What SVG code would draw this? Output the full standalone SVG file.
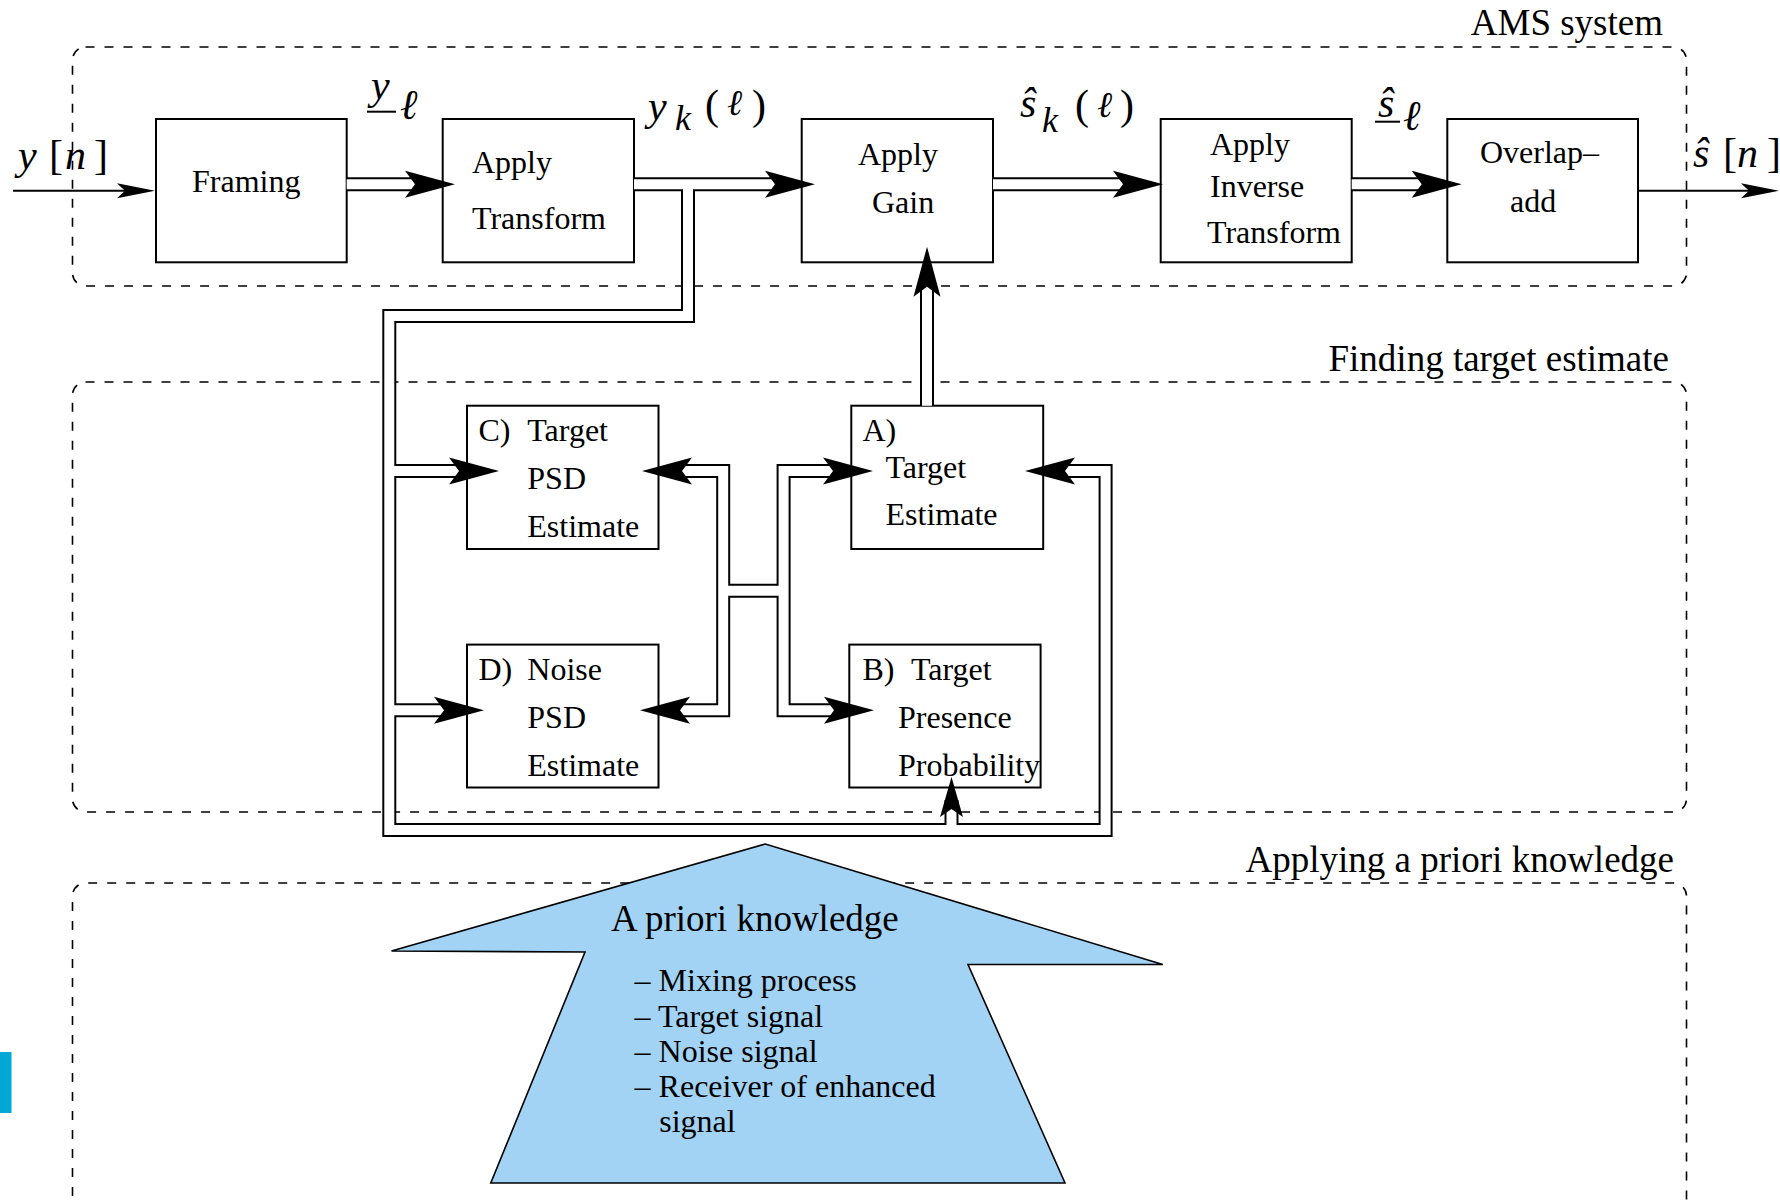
<svg xmlns="http://www.w3.org/2000/svg" width="1780" height="1203" viewBox="0 0 1780 1203">
<style>
.bg{fill:#fff}
.box{fill:#fff;stroke:#000;stroke-width:2}
.dash{fill:none;stroke:#000;stroke-width:1.6;stroke-dasharray:9 10}
.t{font-family:"Liberation Serif","Times New Roman",serif;font-size:32px;fill:#000}
.sec{font-size:37px}
.m{font-style:italic;font-size:42px}
.up{font-style:normal}
.sm{font-size:36px}
.dO{fill:none;stroke:#000;stroke-width:14;stroke-linejoin:miter}
.dI{fill:none;stroke:#fff;stroke-width:10;stroke-linejoin:miter}
.s{fill:none;stroke:#000;stroke-width:2}
.ul{stroke:#000;stroke-width:2}
.ah{fill:#000}
.prior{fill:#a2d3f5;stroke:#000;stroke-width:1.6}
</style>
<defs>
<path id="arrD" d="M0,0 L-50,-13.5 L-40,0 L-50,13.5 Z"/>
<path id="arrS" d="M0,0 L-38,-7.5 L-30,0 L-38,7.5 Z"/>
<path id="c1" d="M346.7,184.3 H420"/>
<path id="c2" d="M634,184.3 H780"/>
<path id="c3" d="M993,184.3 H1128"/>
<path id="c4" d="M1351.7,184.3 H1427"/>
<path id="c5" d="M688,184.3 V316 H389.3 V830 H1105.6 V471 H1060"/>
<path id="c6" d="M389.3,471 H464"/>
<path id="c7" d="M389.3,710.3 H449"/>
<path id="c8" d="M951.5,830 V800"/>
<path id="c9" d="M677,471 H723.2 V710.3 H675"/>
<path id="c10" d="M723.2,590.7 H783.6"/>
<path id="c11" d="M838,471 H783.6 V710.3 H839"/>
<path id="c12" d="M927,405.7 V282"/>
</defs>
<rect class="bg" x="0" y="0" width="1780" height="1203"/>
<rect x="0" y="1052" width="11.5" height="61" fill="#00a8d6"/>

<g id="sections">
<rect class="dash" x="72.5" y="47" width="1614" height="239" rx="13"/>
<rect class="dash" x="72.5" y="382" width="1614" height="430" rx="13"/>
<path class="dash" d="M72.5,1215 V896 A13,13 0 0 1 85.5,883 H1673.5 A13,13 0 0 1 1686.5,896 V1215"/>
<text class="t sec" x="1663" y="35" text-anchor="end">AMS system</text>
<text class="t sec" x="1669" y="371" text-anchor="end">Finding target estimate</text>
<text class="t sec" x="1674" y="872" text-anchor="end">Applying a priori knowledge</text>
</g>

<g id="prior">
<polygon class="prior" points="765.3,844 391.5,951 585,952 490.8,1183 1065,1183 968,964.5 1162.8,964.5"/>
<text class="t sec" x="611" y="930.7">A priori knowledge</text>
<text class="t" x="634.6" y="990.7">– Mixing process</text>
<text class="t" x="634.6" y="1026.7">– Target signal</text>
<text class="t" x="634.6" y="1061.7">– Noise signal</text>
<text class="t" x="634.6" y="1097.3">– Receiver of enhanced</text>
<text class="t" x="659.2" y="1131.7">signal</text>
</g>

<g id="framing">
<rect class="box" x="156" y="119" width="190.7" height="143.3"/>
<text class="t" x="192" y="192">Framing</text>
</g>
<g id="apply-transform">
<rect class="box" x="442.7" y="119" width="191.3" height="143.3"/>
<text class="t" x="472" y="173">Apply</text>
<text class="t" x="472" y="228.7">Transform</text>
</g>
<g id="apply-gain">
<rect class="box" x="801.7" y="119" width="191.3" height="143.3"/>
<text class="t" x="858" y="165">Apply</text>
<text class="t" x="872" y="213">Gain</text>
</g>
<g id="apply-inverse-transform">
<rect class="box" x="1160.7" y="119" width="191" height="143.3"/>
<text class="t" x="1210" y="155">Apply</text>
<text class="t" x="1210" y="196.7">Inverse</text>
<text class="t" x="1207" y="242.7">Transform</text>
</g>
<g id="overlap-add">
<rect class="box" x="1447.3" y="119" width="190.7" height="143.3"/>
<text class="t" x="1480" y="163.3">Overlap–</text>
<text class="t" x="1510" y="211.7">add</text>
</g>

<g id="target-psd">
<rect class="box" x="467" y="405.7" width="191.5" height="143.3"/>
<text class="t" x="478.4" y="441">C)</text>
<text class="t" x="527.3" y="441">Target</text>
<text class="t" x="527.3" y="489">PSD</text>
<text class="t" x="527.3" y="537">Estimate</text>
</g>
<g id="target-estimate">
<rect class="box" x="851.3" y="405.7" width="191.9" height="143.3"/>
<text class="t" x="862.5" y="441">A)</text>
<text class="t" x="885.5" y="477.5">Target</text>
<text class="t" x="885.5" y="525">Estimate</text>
</g>
<g id="noise-psd">
<rect class="box" x="467" y="644.6" width="191.5" height="142.9"/>
<text class="t" x="478.4" y="679.6">D)</text>
<text class="t" x="527.3" y="679.6">Noise</text>
<text class="t" x="527.3" y="727.5">PSD</text>
<text class="t" x="527.3" y="776">Estimate</text>
</g>
<g id="presence-prob">
<rect class="box" x="849.3" y="644.6" width="191.3" height="142.9"/>
<text class="t" x="862.5" y="679.6">B)</text>
<text class="t" x="911" y="679.6">Target</text>
<text class="t" x="898" y="727.5">Presence</text>
<text class="t" x="898" y="776">Probability</text>
</g>

<g id="connectors">
<use href="#c1" class="dO"/><use href="#c2" class="dO"/><use href="#c3" class="dO"/><use href="#c4" class="dO"/>
<use href="#c5" class="dO"/><use href="#c6" class="dO"/><use href="#c7" class="dO"/><use href="#c8" class="dO"/>
<use href="#c9" class="dO"/><use href="#c10" class="dO"/><use href="#c11" class="dO"/><use href="#c12" class="dO"/>
<use href="#c1" class="dI"/><use href="#c2" class="dI"/><use href="#c3" class="dI"/><use href="#c4" class="dI"/>
<use href="#c5" class="dI"/><use href="#c6" class="dI"/><use href="#c7" class="dI"/><use href="#c8" class="dI"/>
<use href="#c9" class="dI"/><use href="#c10" class="dI"/><use href="#c11" class="dI"/><use href="#c12" class="dI"/>
<path class="s" d="M13,190.7 H140"/>
<path class="s" d="M1638,190.7 H1765"/>
<use href="#arrS" class="ah" transform="translate(155,190.7)"/>
<use href="#arrS" class="ah" transform="translate(1779,190.7)"/>
<use href="#arrD" class="ah" transform="translate(455,184.3)"/>
<use href="#arrD" class="ah" transform="translate(815,184.3)"/>
<use href="#arrD" class="ah" transform="translate(1163,184.3)"/>
<use href="#arrD" class="ah" transform="translate(1461.7,184.3)"/>
<use href="#arrD" class="ah" transform="translate(927,246.7) rotate(-90)"/>
<use href="#arrD" class="ah" transform="translate(499,471)"/>
<use href="#arrD" class="ah" transform="translate(484,710.3)"/>
<use href="#arrD" class="ah" transform="translate(642,471) rotate(180)"/>
<use href="#arrD" class="ah" transform="translate(640,710.3) rotate(180)"/>
<use href="#arrD" class="ah" transform="translate(1025,471) rotate(180)"/>
<use href="#arrD" class="ah" transform="translate(873,471)"/>
<use href="#arrD" class="ah" transform="translate(874,710.3)"/>
<use href="#arrD" class="ah" transform="translate(951.5,777) rotate(-90) scale(0.8,0.85)"/>
</g>

<g id="labels">
<text class="t m" y="169"><tspan x="18">y</tspan><tspan class="up" x="49">[</tspan><tspan x="65">n</tspan><tspan class="up" x="94">]</tspan></text>
<text class="t m" x="371" y="99">y</text>
<line class="ul" x1="367" y1="111.7" x2="396" y2="111.7"/>
<text class="t m" x="400" y="119">ℓ</text>
<text class="t m" y="120"><tspan x="648">y</tspan></text>
<text class="t m sm" x="675" y="130">k</text>
<text class="t m" y="119.3"><tspan class="up" x="705">(</tspan></text>
<text class="t m sm" x="727" y="115">ℓ</text>
<text class="t m" y="119.3"><tspan class="up" x="752">)</tspan></text>
<text class="t m" x="1020" y="116.7">ŝ</text>
<text class="t m sm" x="1042" y="131.7">k</text>
<text class="t m up" x="1075" y="119.3">(</text>
<text class="t m sm" x="1097" y="116.7">ℓ</text>
<text class="t m up" x="1120" y="119.3">)</text>
<text class="t m" x="1378" y="116.7">ŝ</text>
<line class="ul" x1="1375" y1="121.7" x2="1400" y2="121.7"/>
<text class="t m" x="1403" y="130">ℓ</text>
<text class="t m" y="166.7"><tspan x="1693">ŝ</tspan><tspan class="up" x="1723">[</tspan><tspan x="1737">n</tspan><tspan class="up" x="1767">]</tspan></text>
</g>
</svg>
